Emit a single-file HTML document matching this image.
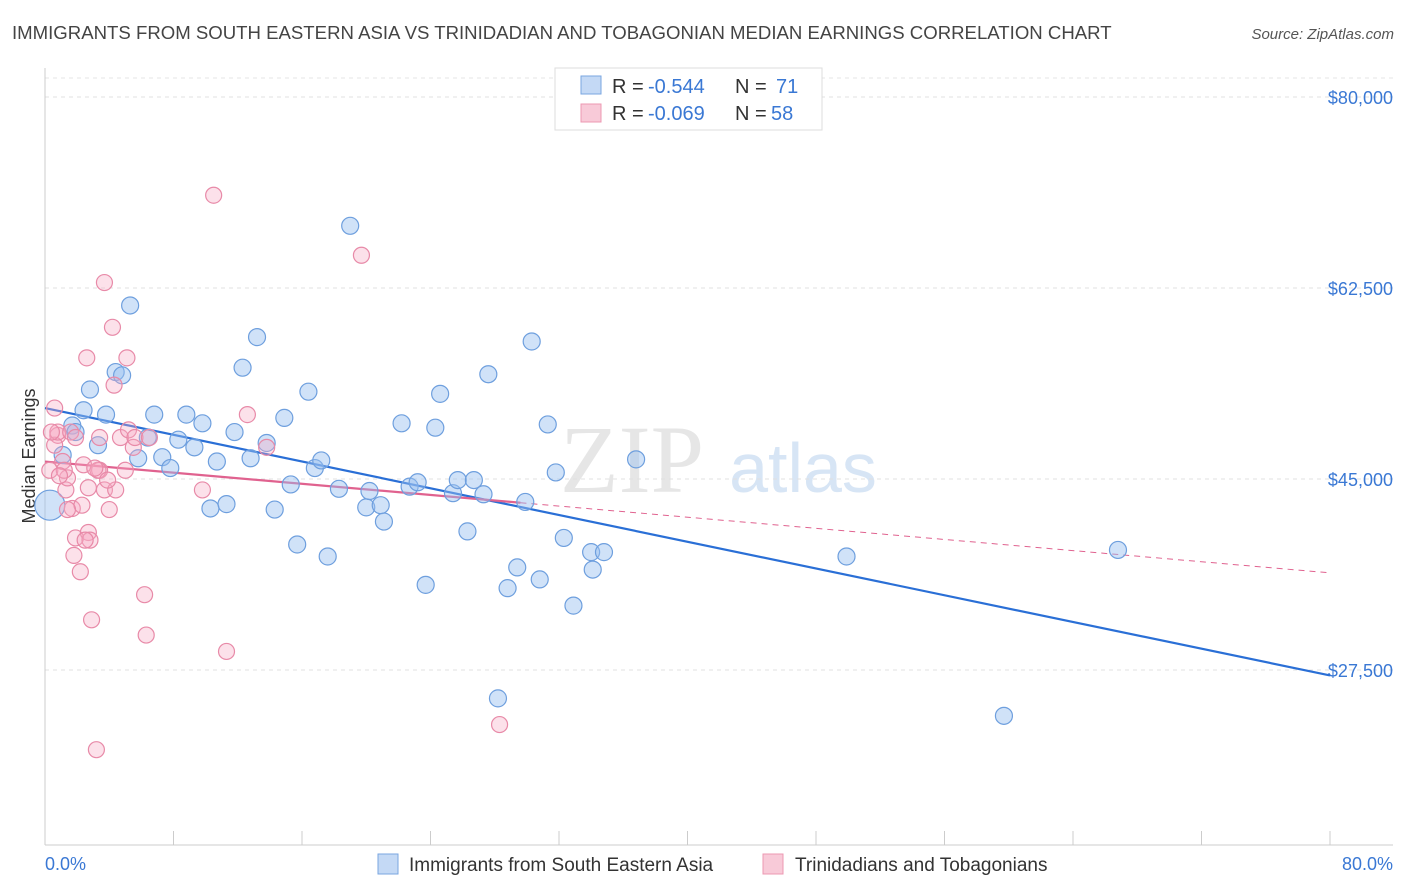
<!DOCTYPE html>
<html><head><meta charset="utf-8"><style>
body{margin:0;background:#fff;font-family:"Liberation Sans",sans-serif}
#wrap{position:relative;width:1406px;height:892px;overflow:hidden}
</style></head><body>
<div id="wrap">
<svg id="svg" width="1406" height="892" xmlns="http://www.w3.org/2000/svg">
<text x="12" y="39" font-size="18.6" fill="#444">IMMIGRANTS FROM SOUTH EASTERN ASIA VS TRINIDADIAN AND TOBAGONIAN MEDIAN EARNINGS CORRELATION CHART</text>
<text x="1394" y="39" font-size="15" fill="#555" font-style="italic" text-anchor="end">Source: ZipAtlas.com</text>
<text x="35" y="456" font-size="18" fill="#333" text-anchor="middle" transform="rotate(-90 35 456)">Median Earnings</text>
<g><text x="632" y="492" font-size="96" fill="#e6e6e6" font-family="Liberation Serif,serif" text-anchor="middle">ZIP</text><text x="803" y="492" font-size="70" fill="#d7e5f5" text-anchor="middle">atlas</text></g>
<g id="grid"></g><g id="axes"></g><g id="lines"></g><g id="pts"></g>
<g>
<rect x="555" y="68" width="267" height="62" fill="#fff" stroke="#ddd"/>
<rect x="581" y="76" width="20" height="18" fill="#c4d9f5" stroke="#7aa6e0"/>
<rect x="581" y="104" width="20" height="18" fill="#f8cad8" stroke="#ec98b2"/>
<g font-size="20"><text x="612" y="93" fill="#333">R =</text><text x="648" y="93" fill="#3a78d4">-0.544</text><text x="735" y="93" fill="#333">N =</text><text x="776" y="93" fill="#3a78d4">71</text></g>
<g font-size="20"><text x="612" y="120" fill="#333">R =</text><text x="648" y="120" fill="#3a78d4">-0.069</text><text x="735" y="120" fill="#333">N =</text><text x="771" y="120" fill="#3a78d4">58</text></g>
</g>
<g>
<rect x="378" y="854" width="20" height="20" fill="#c4d9f5" stroke="#7aa6e0"/>
<text x="409" y="871" font-size="19" fill="#333">Immigrants from South Eastern Asia</text>
<rect x="763" y="854" width="20" height="20" fill="#f8cad8" stroke="#ec98b2"/>
<text x="795" y="871" font-size="19" fill="#333">Trinidadians and Tobagonians</text>
</g>
<text x="45" y="870" font-size="18" fill="#3a78d4">0.0%</text>
<text x="1393" y="870" font-size="18" fill="#3a78d4" text-anchor="end">80.0%</text>
</svg>
</div>
<script>
const yTicks=[80000,62500,45000,27500];
const yTickLabels=["$80,000","$62,500","$45,000","$27,500"];
const xTicks=[0,8,16,24,32,40,48,56,64,72,80];
const blueX=[0.3,2.8,2.4,1.7,3.3,3.8,4.4,4.8,5.3,5.8,6.4,6.8,7.3,7.8,8.3,8.8,9.3,9.8,10.3,10.7,11.3,11.8,12.3,12.8,13.2,13.8,14.3,14.9,15.3,15.7,16.4,16.8,17.2,17.6,18.3,19.0,20.0,20.2,20.9,21.1,22.2,22.7,23.2,23.7,24.3,24.6,25.4,25.7,26.3,26.7,27.3,27.6,28.8,28.2,29.4,29.9,30.3,30.8,31.3,31.8,32.3,32.9,34.0,34.1,34.8,36.8,49.9,59.7,66.8,1.1,1.9];
const blueY=[42.6,53.2,51.3,49.9,48.1,50.9,54.8,54.5,60.9,46.9,48.8,50.9,47.0,46.0,48.6,50.9,47.9,50.1,42.3,46.6,42.7,49.3,55.2,46.9,58.0,48.3,42.2,50.6,44.5,39.0,53.0,46.0,46.7,37.9,44.1,68.2,42.4,43.9,42.6,41.1,50.1,44.3,44.7,35.3,49.7,52.8,43.7,44.9,40.2,44.9,43.6,54.6,35.0,24.9,36.9,42.9,57.6,35.8,50.0,45.6,39.6,33.4,38.3,36.7,38.3,46.8,37.9,23.3,38.5,47.2,49.3];
const pinkX=[0.3,0.6,0.8,1.1,1.3,1.4,1.7,1.8,1.9,2.2,2.4,2.6,2.7,2.9,3.2,3.4,3.7,4.0,4.2,4.3,4.4,4.7,5.0,5.1,5.2,5.5,5.6,6.2,6.3,6.5,9.8,10.5,11.3,12.6,13.8,19.7,28.3,3.7,0.6,0.8,1.6,1.9,2.3,2.7,2.8,3.3,1.2,3.4,3.9,0.4,0.9,1.4,2.5,3.1];
const pinkY=[45.8,51.5,49.0,46.6,44.0,45.1,42.3,38.0,39.6,36.5,46.3,56.1,44.2,32.1,20.2,45.8,44.0,42.2,58.9,53.6,44.0,48.8,45.8,56.1,49.5,47.9,48.8,34.4,30.7,48.8,44.0,71.0,29.2,50.9,47.9,65.5,22.5,63.0,48.1,49.3,49.3,48.8,42.6,40.1,39.4,45.8,45.8,48.8,44.9,49.3,45.3,42.2,39.4,46.0];
const blueTrend=[51.5,27.0];
const pinkTrend=[46.6,36.4];
const pinkSolidEnd=29.6;

const NS="http://www.w3.org/2000/svg";
const X=v=>45+v/80*1285;
const Y=v=>97+(80000-v)*191/17500;
const Yk=v=>Y(v*1000);
function mk(t,a,p){const e=document.createElementNS(NS,t);for(const k in a)e.setAttribute(k,a[k]);p.appendChild(e);return e;}
const grid=document.getElementById('grid'),axes=document.getElementById('axes'),lines=document.getElementById('lines'),pts=document.getElementById('pts');
mk('line',{x1:45,x2:1393,y1:78,y2:78,stroke:'#e4e4e4','stroke-dasharray':'4,4'},grid);
yTicks.forEach((t,i)=>{
 const l=mk('line',{x1:45,x2:1393,y1:Y(t),y2:Y(t),stroke:'#e0e0e0','stroke-dasharray':'4,4'},grid);
 
 
 const tx=mk('text',{x:1393,y:Y(t)+7,'font-size':18,fill:'#3a78d4','text-anchor':'end'},axes);
 tx.textContent=yTickLabels[i];
 
 
});
mk('line',{x1:45,x2:45,y1:68,y2:845,stroke:'#ccc'},axes);
mk('line',{x1:45,x2:1393,y1:845,y2:845,stroke:'#ccc'},axes);
xTicks.forEach(t=>{
 const l=mk('line',{x1:X(t),x2:X(t),y1:831,y2:845,stroke:'#ccc'},axes);
 
 
});
function dot(x,y,r,f,s,name){
 const c=mk('circle',{cx:X(x),cy:Yk(y),r:r,fill:f,stroke:s,'stroke-width':1.2},pts);
 
 
}
blueX.forEach((x,i)=>dot(x,blueY[i],i===0?15:8.5,'rgba(150,190,240,0.45)','#6e9fde','blue-point'));
pinkX.forEach((x,i)=>dot(x,pinkY[i],8,'rgba(245,170,195,0.35)','#e88aa8','pink-point'));
const bl=mk('line',{x1:X(0),y1:Yk(blueTrend[0]),x2:X(80),y2:Yk(blueTrend[1]),stroke:'#2a6fd6','stroke-width':2.2},lines);


const pAt=x=>pinkTrend[0]+(pinkTrend[1]-pinkTrend[0])*x/80;
const pl=mk('line',{x1:X(0),y1:Yk(pAt(0)),x2:X(pinkSolidEnd),y2:Yk(pAt(pinkSolidEnd)),stroke:'#e0628f','stroke-width':2.2},lines);


const pd=mk('line',{x1:X(pinkSolidEnd),y1:Yk(pAt(pinkSolidEnd)),x2:X(80),y2:Yk(pAt(80)),stroke:'#e0628f','stroke-width':1,'stroke-dasharray':'6,5'},lines);


</script>
</body></html>
